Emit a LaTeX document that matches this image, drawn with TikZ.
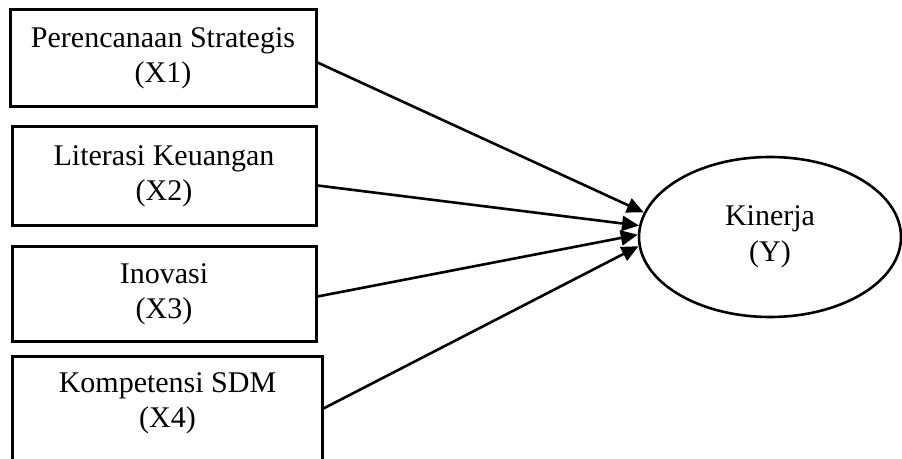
\documentclass[tikz,border=0pt]{standalone}
\usepackage{fontspec}
\setmainfont{Liberation Serif}
\usetikzlibrary{shapes.geometric}
\usetikzlibrary{arrows.meta}

\tikzset{
   varbox/.style={rectangle, draw, line width=3pt, align=center,
      font=\fontsize{30}{35}\selectfont},
   varell/.style={ellipse, draw, line width=2.6pt, align=center, inner sep=0pt,
      minimum width=262pt, minimum height=160pt, font=\fontsize{30}{36}\selectfont},
   panah/.style={line width=2.6pt, -{Triangle[length=17pt,width=15pt]}}
}

\begin{document}
\begin{tikzpicture}[x=1pt, y=1pt]
   \useasboundingbox (0,0) rectangle (902,458);

   % variabel bebas
   \node[varbox, minimum width=306pt, minimum height=97pt] (x1) at (163,399.5)
      {Perencanaan Strategis\\(X1)};
   \node[varbox, minimum width=304pt, minimum height=99pt] (x2) at (164,281.5)
      {Literasi Keuangan\\(X2)};
   \node[varbox, minimum width=304pt, minimum height=95pt] (x3) at (164,163.5)
      {Inovasi\\(X3)};
   \node[varbox, draw=none, minimum width=307pt, minimum height=90pt] (x4) at (167.5,55)
      {Kompetensi SDM\\(X4)};
   \draw[line width=3pt] ([yshift=-30pt]x4.south west) |- (x4.north east)
      -- ([yshift=-30pt]x4.south east);

   % variabel terikat
   \node[varell] (y) at (770,221) {Kinerja\\(Y)};

   \draw[panah] ([yshift=-4pt]x1.east) -- (y.169);
   \draw[panah] ([yshift=-9pt]x2.east) -- (y.175);
   \draw[panah] ([yshift=-2pt]x3.east) -- (y.179);
   \draw[panah] ([yshift=-6pt]x4.east) -- (y.184);
\end{tikzpicture}
\end{document}
